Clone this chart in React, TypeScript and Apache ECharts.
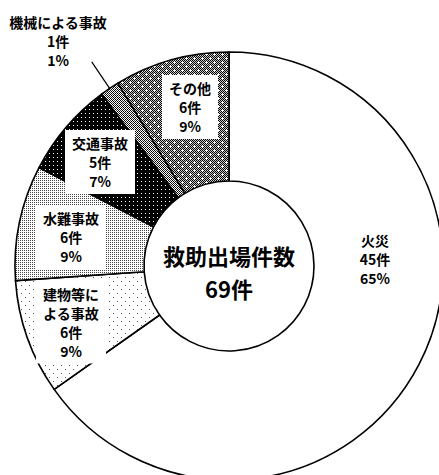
import React, { useEffect, useRef } from 'react';
import * as echarts from 'echarts';

// ---- data ----
const categories = ['火災', '建物等による事故', '水難事故', '交通事故', '機械による事故', 'その他'];
const labelNames = ['火災', '建物等に\nよる事故', '水難事故', '交通事故', '機械による事故', 'その他'];
const counts = [45, 6, 6, 5, 1, 6];
const totalTitle = '救助出場件数';
const totalCount = 69;

// ---- layout (label anchor points, px) ----
const labelCenters: [number, number][] = [
  [375, 259],
  [71, 322],
  [71, 237],
  [100, 162],
  [58, 41],
  [190, 107],
];

const FONT = '"Noto Sans CJK JP", "Noto Sans", sans-serif';

type RGB = [number, number, number];
function makeTile(w: number, h: number, fn: (x: number, y: number) => RGB) {
  const c = document.createElement('canvas');
  c.width = w;
  c.height = h;
  const ctx = c.getContext('2d')!;
  const img = ctx.createImageData(w, h);
  for (let y = 0; y < h; y++) {
    for (let x = 0; x < w; x++) {
      const [r, g, b] = fn(x, y);
      const i = (y * w + x) * 4;
      img.data[i] = r;
      img.data[i + 1] = g;
      img.data[i + 2] = b;
      img.data[i + 3] = 255;
    }
  }
  ctx.putImageData(img, 0, 0);
  return { image: c.toDataURL(), imageWidth: w, imageHeight: h, repeat: 'repeat' };
}

const W: RGB = [255, 255, 255];
const B: RGB = [0, 0, 0];

function buildPatterns() {
  const sparseDots = makeTile(8, 8, (x, y) =>
    (x === 1 && y === 1) || (x === 5 && y === 5) ? [90, 90, 90] : W
  );
  const denseGray = makeTile(2, 2, (x, y) => (x === 0 && y === 0 ? [70, 70, 70] : W));
  const blackDots = makeTile(4, 4, (x, y) => (x === 1 && y === 1 ? W : B));
  const cross = makeTile(4, 4, (x, y) =>
    (x - y + 4) % 4 === 0 || (x + y) % 4 === 0 ? B : (x + y) % 2 === 0 ? [60, 60, 60] : W
  );
  const plusChecker = makeTile(8, 8, (x, y) => {
    const isPlus = (cx: number, cy: number) =>
      (x === cx && Math.abs(y - cy) <= 1) || (y === cy && Math.abs(x - cx) <= 1);
    if (isPlus(2, 2) || isPlus(6, 6)) return W;
    return (x + y) % 2 === 0 ? B : [200, 200, 200];
  });
  return ['#ffffff', sparseDots, denseGray, blackDots, cross, plusChecker];
}

export default function App() {
  const ref = useRef<HTMLDivElement>(null);
  useEffect(() => {
    if (!ref.current) return;
    const chart = echarts.init(ref.current, undefined, { renderer: 'svg' });
    const fills = buildPatterns();
    const data = categories.map((name, i) => {
      const item: any = {
        name,
        value: counts[i],
        itemStyle: { color: fills[i] },
      };
      if (i === 4) {
        item.label = { position: 'outside', backgroundColor: 'transparent' };
        item.labelLine = {
          show: true,
          length: 32,
          length2: 0,
          lineStyle: { color: '#000', width: 1.2 },
        };
      }
      return item;
    });
    const textStyle = {
      align: 'center',
      verticalAlign: 'middle',
      fontFamily: FONT,
      fontWeight: 'bold',
      fontSize: 22,
      lineHeight: 24,
      fill: '#000',
    };
    chart.setOption({
      animation: false,
      backgroundColor: '#fff',
      graphic: [
        { type: 'text', x: 229, y: 255, z: 100, style: { ...textStyle, text: totalTitle } },
        { type: 'text', x: 229, y: 288, z: 100, style: { ...textStyle, text: `${totalCount}件` } },
      ],
      series: [
        {
          type: 'pie',
          center: [229, 266],
          radius: [85, 214],
          startAngle: 90,
          clockwise: true,
          avoidLabelOverlap: false,
          itemStyle: { borderColor: '#000', borderWidth: 1.6 },
          emphasis: { disabled: true },
          label: {
            show: true,
            position: 'inside',
            formatter: (p: any) =>
              `${labelNames[p.dataIndex]}\n${p.value}件\n${Math.round(p.percent)}%`,
            fontFamily: FONT,
            fontWeight: 'bold',
            fontSize: 14,
            lineHeight: 19,
            color: '#000',
            align: 'center',
            backgroundColor: '#fff',
            padding: [4, 7, 3, 7],
          },
          labelLine: { show: false },
          labelLayout: (params: any) => {
            const c = labelCenters[params.dataIndex];
            const out: any = { x: c[0], y: c[1], align: 'center', verticalAlign: 'middle' };
            if (params.labelLinePoints) out.labelLinePoints = params.labelLinePoints;
            return out;
          },
          data,
        },
      ],
    });
    return () => chart.dispose();
  }, []);
  return (
    <div
      ref={ref}
      style={{ position: 'absolute', left: 0, top: 0, width: 439, height: 475 }}
    />
  );
}
